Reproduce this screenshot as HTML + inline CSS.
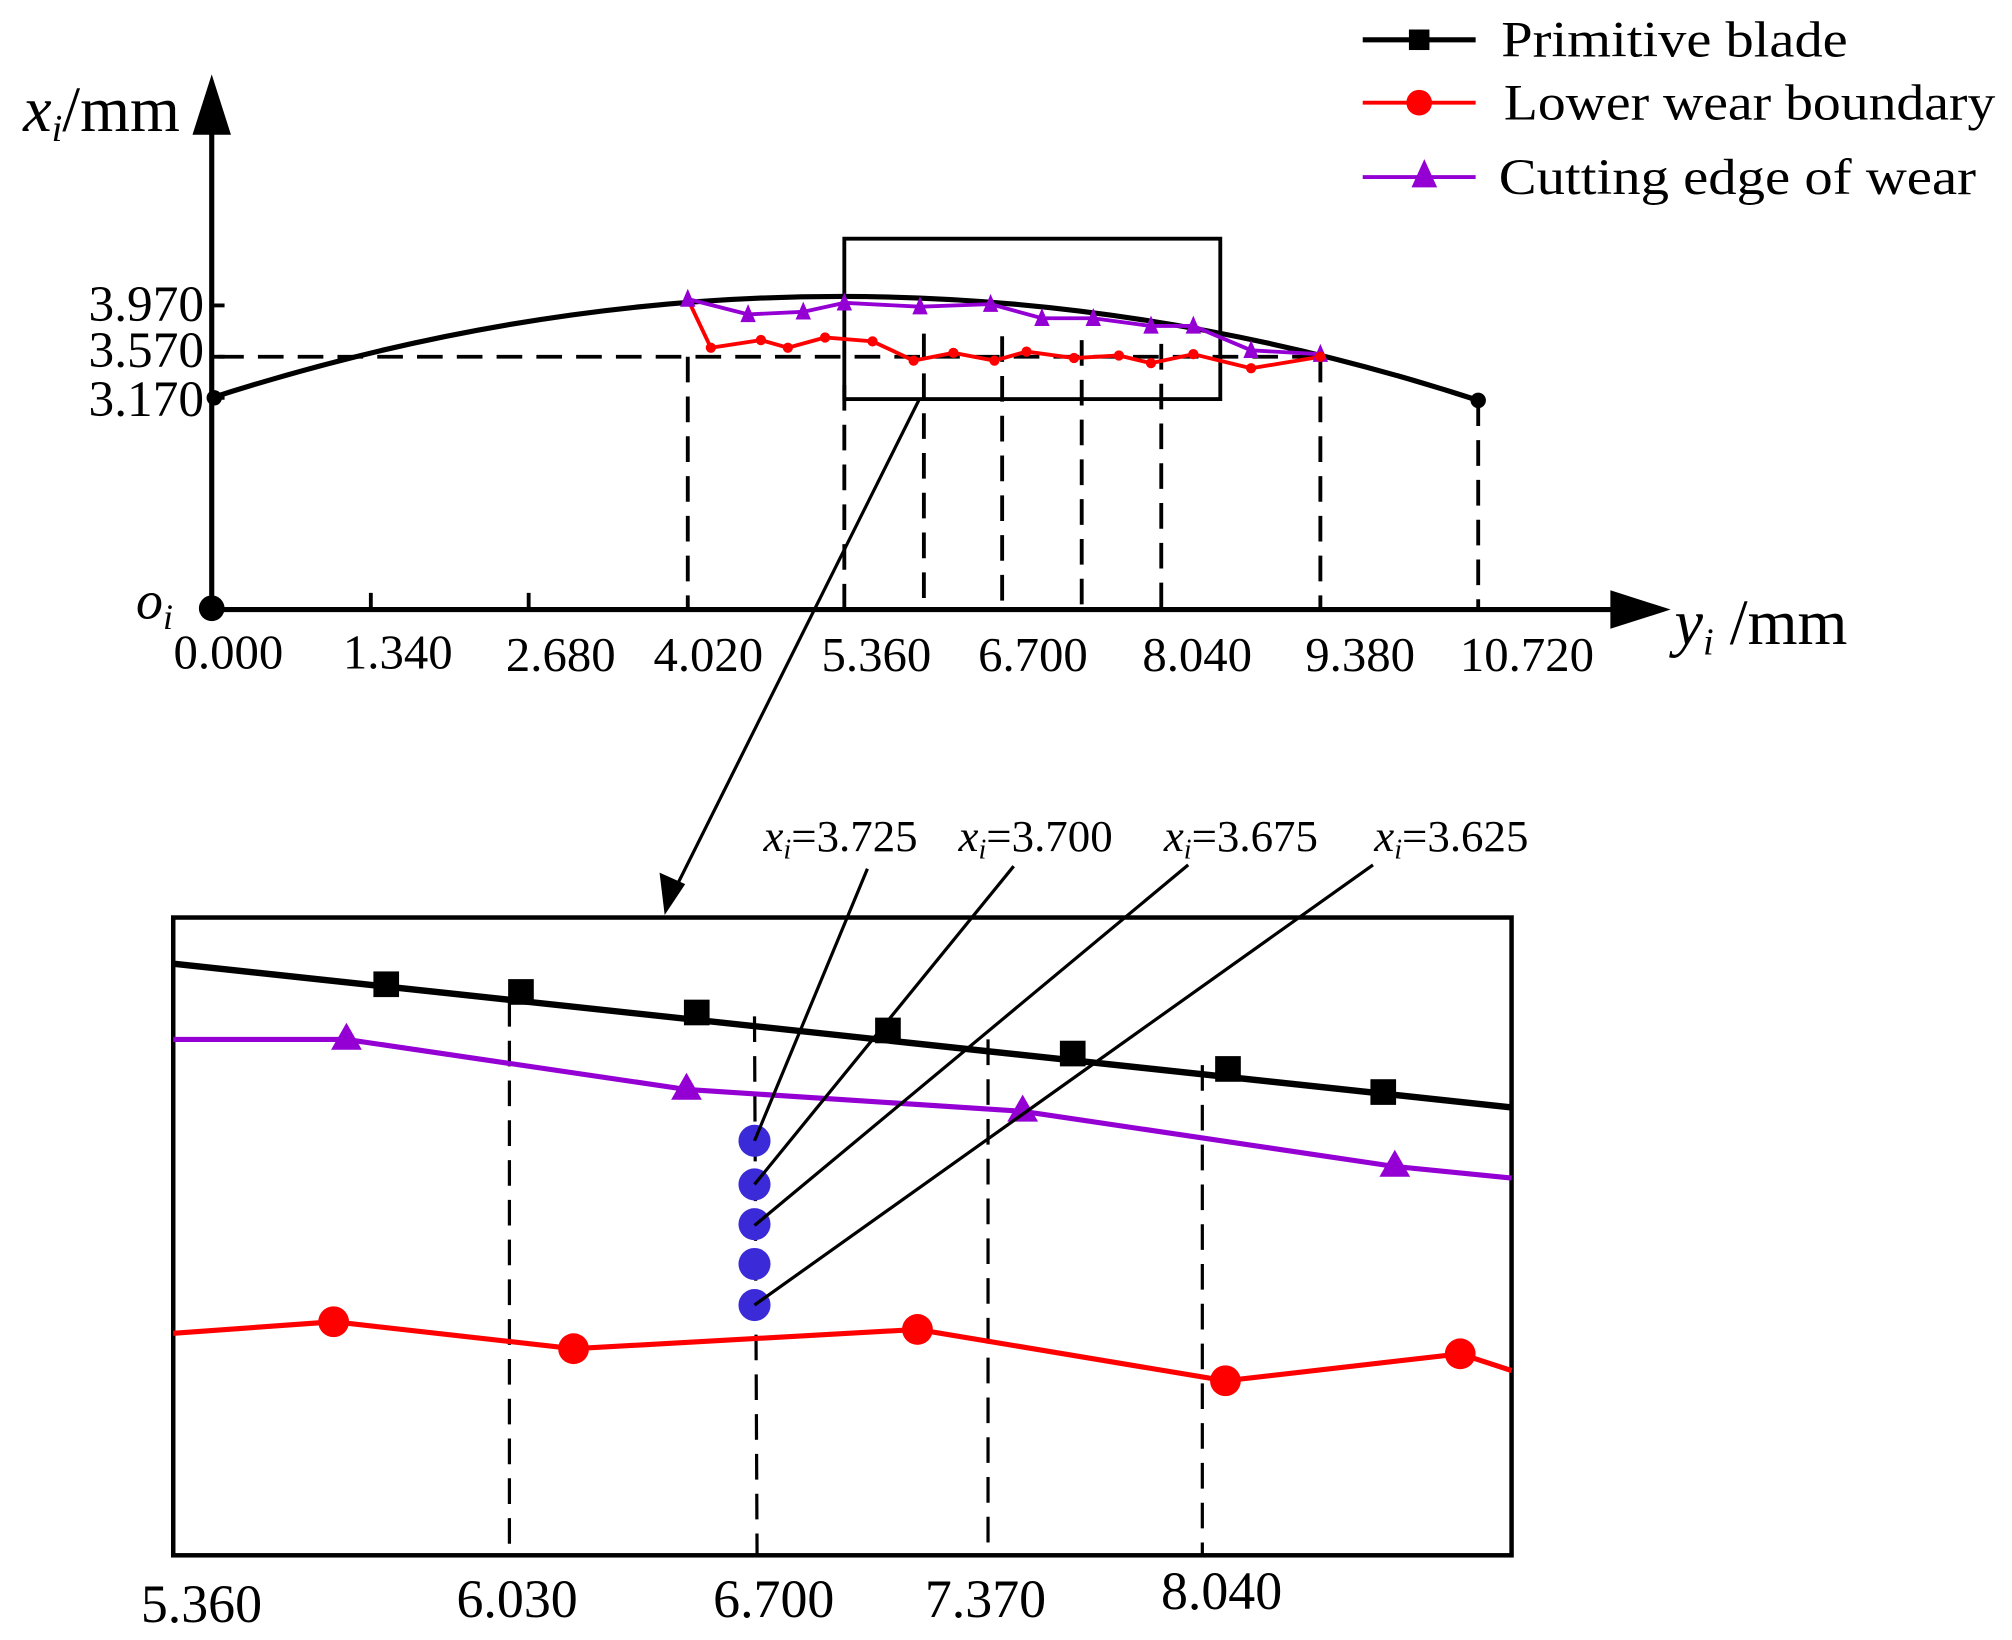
<!DOCTYPE html>
<html><head><meta charset="utf-8"><style>html,body{margin:0;padding:0;background:#fff}svg{display:block}</style></head>
<body>
<svg width="2012" height="1640" viewBox="0 0 1568 1278" preserveAspectRatio="none" xmlns="http://www.w3.org/2000/svg" font-family="Liberation Serif, serif">
<rect width="1568" height="1278" fill="#fff"/>
<!-- legend -->
<line x1="1062" y1="31" x2="1150" y2="31" stroke="#000" stroke-width="4"/><rect x="1098" y="23" width="16" height="16" fill="#000"/>
<text x="1170" y="44" font-size="40" textLength="270" lengthAdjust="spacingAndGlyphs">Primitive blade</text>
<line x1="1062" y1="80" x2="1150" y2="80" stroke="#f00" stroke-width="3"/><circle cx="1106" cy="80" r="10" fill="#f00"/>
<text x="1172" y="93" font-size="40" textLength="383" lengthAdjust="spacingAndGlyphs">Lower wear boundary</text>
<line x1="1062" y1="138" x2="1150" y2="138" stroke="#9400d3" stroke-width="3"/><polygon points="1110,124 1100,146 1120,146" fill="#9400d3"/>
<text x="1168" y="151" font-size="40" textLength="372" lengthAdjust="spacingAndGlyphs">Cutting edge of wear</text>
<!-- axes -->
<line x1="165" y1="475" x2="165" y2="100" stroke="#000" stroke-width="4"/>
<polygon points="165,58 150,105 180,105" fill="#000"/>
<line x1="165" y1="475" x2="1260" y2="475" stroke="#000" stroke-width="4"/>
<polygon points="1302,475 1255,460 1255,490" fill="#000"/>
<circle cx="165" cy="474" r="10" fill="#000"/>
<text x="18" y="102" font-size="50"><tspan font-style="italic">x</tspan><tspan font-style="italic" font-size="30" dy="8">i</tspan><tspan dy="-8">/mm</tspan></text>
<text x="1305" y="502" font-size="50"><tspan font-style="italic">y</tspan><tspan font-style="italic" font-size="30" dy="8">i</tspan><tspan dy="-8"> /mm</tspan></text>
<text x="106" y="482" font-size="42" font-style="italic">o<tspan font-size="28" dy="8">i</tspan></text>
<g stroke="#000" stroke-width="3">
<line x1="289" y1="475" x2="289" y2="462"/><line x1="412" y1="475" x2="412" y2="462"/>
<line x1="165" y1="238" x2="175" y2="238"/><line x1="165" y1="278" x2="175" y2="278"/><line x1="165" y1="310" x2="175" y2="310"/>
</g>
<g font-size="38" text-anchor="middle">
<text x="178" y="521">0.000</text><text x="310" y="521">1.340</text><text x="437" y="523">2.680</text><text x="552" y="523">4.020</text><text x="683" y="523">5.360</text><text x="805" y="523">6.700</text><text x="933" y="523">8.040</text><text x="1060" y="523">9.380</text><text x="1190" y="523">10.720</text>
</g>
<g font-size="40" text-anchor="end">
<text x="159" y="250">3.970</text><text x="159" y="286">3.570</text><text x="159" y="324">3.170</text>
</g>
<!-- dashed -->
<g stroke="#000" stroke-width="3" stroke-dasharray="20,11" fill="none">
<line x1="170" y1="278" x2="1030" y2="278"/>
<line x1="536" y1="278" x2="536" y2="475"/><line x1="658" y1="300" x2="658" y2="475"/>
<line x1="720" y1="260" x2="720" y2="475"/><line x1="781" y1="262" x2="781" y2="475"/>
<line x1="843" y1="265" x2="843" y2="475"/><line x1="905" y1="268" x2="905" y2="475"/>
<line x1="1029" y1="278" x2="1029" y2="475"/><line x1="1152" y1="312" x2="1152" y2="475"/>
</g>
<path d="M165,310 Q658,151 1152,312" fill="none" stroke="#000" stroke-width="4"/>
<circle cx="167" cy="310" r="6"/><circle cx="1152" cy="312" r="6"/>
<rect x="658" y="186" width="293" height="125" fill="none" stroke="#000" stroke-width="3"/>
<polyline points="536,233 554,271 593,265 614,271 643,263 680,266 712,281 743,275 775,281 800,274 837,279 872,277 897,283 930,276 975,287 1029,278" fill="none" stroke="#f00" stroke-width="3"/>
<g fill="#f00"><circle cx="554" cy="271" r="4"/><circle cx="593" cy="265" r="4"/><circle cx="614" cy="271" r="4"/><circle cx="643" cy="263" r="4"/><circle cx="680" cy="266" r="4"/><circle cx="712" cy="281" r="4"/><circle cx="743" cy="275" r="4"/><circle cx="775" cy="281" r="4"/><circle cx="800" cy="274" r="4"/><circle cx="837" cy="279" r="4"/><circle cx="872" cy="277" r="4"/><circle cx="897" cy="283" r="4"/><circle cx="930" cy="276" r="4"/><circle cx="975" cy="287" r="4"/></g>
<polyline points="536,233 583,245 626,243 658,236 717,239 772,237 812,248 852,248 897,254 930,254 975,273 1029,276" fill="none" stroke="#9400d3" stroke-width="3"/>
<g fill="#9400d3">
<polygon points="536,225 530,239 542,239"/><polygon points="583,237 577,251 589,251"/><polygon points="626,235 620,249 632,249"/><polygon points="658,228 652,242 664,242"/><polygon points="717,231 711,245 723,245"/><polygon points="772,229 766,243 778,243"/><polygon points="812,240 806,254 818,254"/><polygon points="852,240 846,254 858,254"/><polygon points="897,246 891,260 903,260"/><polygon points="930,246 924,260 936,260"/><polygon points="975,265 969,279 981,279"/><polygon points="1029,268 1023,282 1035,282"/>
</g>
<circle cx="1029" cy="278" r="4" fill="#f00"/>
<!-- arrow -->
<line x1="716" y1="312" x2="525" y2="695" stroke="#000" stroke-width="2.5"/>
<polygon points="518,713 514,680 534,689" fill="#000"/>
<!-- bottom -->
<rect x="135" y="715" width="1043" height="497" fill="none" stroke="#000" stroke-width="3.5"/>
<g stroke="#000" stroke-width="2.5" stroke-dasharray="20,11">
<line x1="397" y1="780" x2="397" y2="1212"/><line x1="588" y1="792" x2="590" y2="1212"/><line x1="770" y1="810" x2="770" y2="1212"/><line x1="937" y1="830" x2="937" y2="1212"/>
</g>
<line x1="135" y1="751" x2="1178" y2="863" stroke="#000" stroke-width="5"/>
<g fill="#000"><rect x="291" y="757" width="20" height="20"/><rect x="396" y="763" width="20" height="20"/><rect x="533" y="779" width="20" height="20"/><rect x="682" y="793" width="20" height="20"/><rect x="826" y="811" width="20" height="20"/><rect x="947" y="823" width="20" height="20"/><rect x="1068" y="841" width="20" height="20"/></g>
<polyline points="135,810 270,810 535,849 797,866 1087,909 1178,918" fill="none" stroke="#9400d3" stroke-width="4"/>
<g fill="#9400d3"><polygon points="270,797 258,818 282,818"/><polygon points="535,836 523,857 547,857"/><polygon points="797,853 785,874 809,874"/><polygon points="1087,896 1075,917 1099,917"/></g>
<polyline points="135,1039 260,1030 447,1051 715,1036 955,1076 1138,1055 1178,1068" fill="none" stroke="#f00" stroke-width="4"/>
<g fill="#f00"><circle cx="260" cy="1030" r="12"/><circle cx="447" cy="1051" r="12"/><circle cx="715" cy="1036" r="12"/><circle cx="955" cy="1076" r="12"/><circle cx="1138" cy="1055" r="12"/></g>
<g fill="#3a2ad8"><circle cx="588" cy="889" r="12.5"/><circle cx="588" cy="923" r="12.5"/><circle cx="588" cy="954" r="12.5"/><circle cx="588" cy="985" r="12.5"/><circle cx="588" cy="1017" r="12.5"/></g>
<g stroke="#000" stroke-width="2.5">
<line x1="588" y1="889" x2="676" y2="677"/><line x1="588" y1="923" x2="790" y2="675"/><line x1="588" y1="955" x2="926" y2="674"/><line x1="588" y1="1017" x2="1070" y2="674"/>
</g>
<g font-size="35">
<text x="595" y="663"><tspan font-style="italic">x</tspan><tspan font-style="italic" font-size="22" dy="6">i</tspan><tspan dy="-6">=3.725</tspan></text>
<text x="747" y="663"><tspan font-style="italic">x</tspan><tspan font-style="italic" font-size="22" dy="6">i</tspan><tspan dy="-6">=3.700</tspan></text>
<text x="907" y="663"><tspan font-style="italic">x</tspan><tspan font-style="italic" font-size="22" dy="6">i</tspan><tspan dy="-6">=3.675</tspan></text>
<text x="1071" y="663"><tspan font-style="italic">x</tspan><tspan font-style="italic" font-size="22" dy="6">i</tspan><tspan dy="-6">=3.625</tspan></text>
</g>
<g font-size="42" text-anchor="middle">
<text x="157" y="1264">5.360</text><text x="403" y="1260">6.030</text><text x="603" y="1260">6.700</text><text x="768" y="1260">7.370</text><text x="952" y="1254">8.040</text>
</g>
</svg>
</body></html>
